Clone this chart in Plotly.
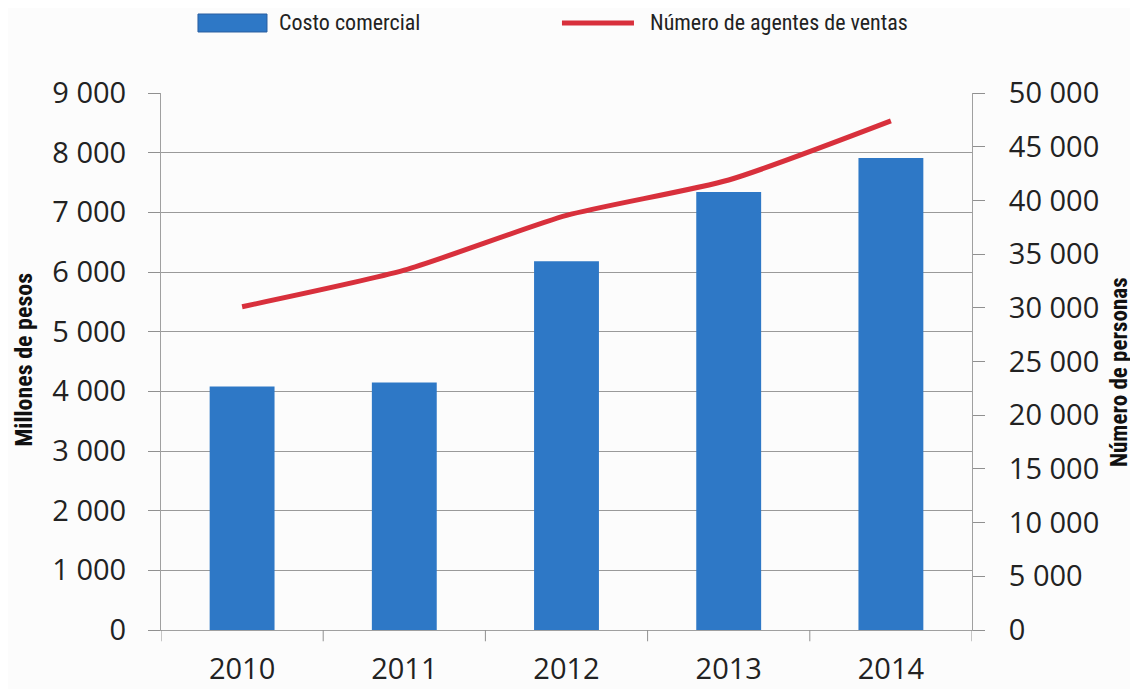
import plotly.graph_objects as go

years = ["2010", "2011", "2012", "2013", "2014"]
costo_comercial = [4080, 4150, 6180, 7340, 7910]
agentes_ventas = [30100, 33500, 38600, 41900, 47400]
left_ticks = [0, 1000, 2000, 3000, 4000, 5000, 6000, 7000, 8000, 9000]
left_labels = ["0", "1 000", "2 000", "3 000", "4 000", "5 000", "6 000", "7 000", "8 000", "9 000"]
right_ticks = [0, 5000, 10000, 15000, 20000, 25000, 30000, 35000, 40000, 45000, 50000]
right_labels = ["0", "5 000", "10 000", "15 000", "20 000", "25 000", "30 000", "35 000", "40 000", "45 000", "50 000"]
legend_names = ["Costo comercial", "Número de agentes de ventas"]
axis_titles = ["Millones de pesos", "Número de personas"]

BLUE = "#2e78c6"
RED = "#d8303c"
BG = "#fcfcfc"
NARROW = "Liberation Sans Narrow, Arial Narrow, Roboto Condensed, sans-serif"

fig = go.Figure()
fig.add_trace(go.Bar(x=years, y=costo_comercial, name=legend_names[0],
                     marker=dict(color=BLUE, line=dict(width=0)), width=0.4, yaxis="y"))
fig.add_trace(go.Scatter(x=years, y=agentes_ventas, name=legend_names[1],
                         mode="lines", line=dict(color=RED, width=5, shape="spline", smoothing=0.6),
                         yaxis="y2"))

tickfont = dict(family="Open Sans, Lato, sans-serif", size=29, color="#222222")
fig.update_layout(
    width=1130, height=681,
    paper_bgcolor=BG, plot_bgcolor=BG,
    margin=dict(l=153, r=166, t=85, b=59),
    showlegend=False,
    xaxis=dict(type="category", range=[-0.5, 4.5], showgrid=False, tickfont=tickfont,
               showline=True, linecolor="#a0a0a0", linewidth=1, automargin=False,
               ticks="", ticklabelstandoff=13),
    yaxis=dict(range=[0, 9000], tickvals=left_ticks, ticktext=left_labels, tickfont=tickfont,
               showgrid=True, gridcolor="#9a9a9a", gridwidth=1.2, automargin=False,
               showline=True, linecolor="#a0a0a0", ticks="outside", ticklen=12, tickcolor="#909090",
               zeroline=False, ticklabelstandoff=16),
    yaxis2=dict(range=[0, 50000], tickvals=right_ticks, ticktext=right_labels, tickfont=tickfont,
                overlaying="y", side="right", showgrid=False, zeroline=False, automargin=False,
                showline=True, linecolor="#a0a0a0", ticks="outside", ticklen=12, tickcolor="#909090",
                ticklabelstandoff=18),
)

# x-axis category separator ticks
for i in range(6):
    fig.add_shape(type="line", xref="x", yref="paper", x0=i - 0.5, x1=i - 0.5, y0=0, y1=-0.021,
                  line=dict(color="#909090", width=1))

# axis titles
fig.add_annotation(text="<b>" + axis_titles[0] + "</b>", xref="paper", yref="paper",
                   x=-0.169, y=0.503, textangle=-90, showarrow=False,
                   xanchor="center", yanchor="middle",
                   font=dict(family=NARROW, size=24, color="#111111"))
fig.add_annotation(text="<b>" + axis_titles[1] + "</b>", xref="paper", yref="paper",
                   x=1.181, y=0.48, textangle=-90, showarrow=False,
                   xanchor="center", yanchor="middle",
                   font=dict(family=NARROW, size=23, color="#111111"))

# manual legend at top
fig.add_shape(type="rect", xref="paper", yref="paper", x0=0.0456, x1=0.1307, y0=1.1136, y1=1.1471,
              fillcolor=BLUE, line=dict(color="#2a5fa0", width=1))
fig.add_annotation(text=legend_names[0], xref="paper", yref="paper", x=0.143, y=1.132,
                   xanchor="left", yanchor="middle", showarrow=False,
                   font=dict(family=NARROW, size=22, color="#222222"))
fig.add_shape(type="line", xref="paper", yref="paper", x0=0.4944, x1=0.5832, y0=1.1304, y1=1.1304,
              line=dict(color=RED, width=5))
fig.add_annotation(text=legend_names[1], xref="paper", yref="paper", x=0.6005, y=1.1304,
                   xanchor="left", yanchor="middle", showarrow=False,
                   font=dict(family=NARROW, size=22, color="#222222"))

fig.write_html("out.html")
